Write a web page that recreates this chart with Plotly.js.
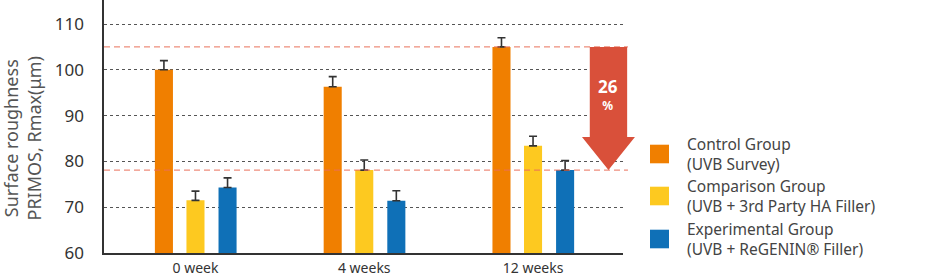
<!DOCTYPE html>
<html><head><meta charset="utf-8">
<script src="https://cdn.plot.ly/plotly-3.0.1.min.js"></script>
<style>html,body{margin:0;padding:0;background:#fff}#chart{width:932px;height:279px}</style>
</head><body><div id="chart"></div>
<script>
const categories = ['0 week', '4 weeks', '12 weeks'];
const seriesNames = ['Control Group', 'Comparison Group', 'Experimental Group'];
const seriesSub = ['(UVB Survey)', '(UVB + 3rd Party HA Filler)', '(UVB + ReGENIN® Filler)'];
const controlValues = [100.0, 96.3, 105.0];
const comparisonValues = [71.5, 78.1, 83.4];
const experimentalValues = [74.3, 71.4, 78.1];
const controlErr = [2.0, 2.2, 2.0];
const comparisonErr = [2.0, 2.2, 2.1];
const experimentalErr = [2.1, 2.2, 2.1];
const reductionPct = '26';
const yTicks = [60, 70, 80, 90, 100, 110];

const colors = ['#f07f00', '#fdc920', '#0f70b7'];
const values = [controlValues, comparisonValues, experimentalValues];
const errs = [controlErr, comparisonErr, experimentalErr];
const yMin = 60, yMax = 115.24;
const barW = 0.107;
const centers = [-0.187, 0, 0.19];
const FONT = 'Noto Sans, sans-serif';

const traces = values.map((v, i) => ({
  type: 'bar',
  x: categories,
  y: v,
  name: seriesNames[i],
  width: barW,
  offset: centers[i] - barW / 2,
  marker: {color: colors[i], line: {width: 0}},
  error_y: {type: 'data', array: errs[i], arrayminus: v.map(() => 0), symmetric: false,
            color: '#333', thickness: 1.6, width: 4},
  showlegend: false,
  hoverinfo: 'skip'
}));

const yp = v => (v - yMin) / (yMax - yMin);
const hi = controlValues[2], lo = experimentalValues[2];
const shapes = [];
[hi, lo].forEach(v => shapes.push({type: 'line', xref: 'paper', yref: 'paper', x0: 0, x1: 1.0096, y0: yp(v), y1: yp(v),
  line: {color: '#e9705a', width: 1, dash: '6px,4px'}}));
// arrow
const sx0 = 0.936, sx1 = 1.008, hx0 = 0.921, hx1 = 1.023, tx = 0.972;
const headBase = yp(lo) + 33 / 253;
shapes.push({type: 'path', xref: 'paper', yref: 'paper', line: {width: 0}, fillcolor: '#d9503a',
  path: `M ${sx0},${yp(hi)} L ${sx1},${yp(hi)} L ${sx1},${headBase} L ${hx1},${headBase} L ${tx},${yp(lo)} L ${hx0},${headBase} L ${sx0},${headBase} Z`});

const annotations = [
  {xref: 'paper', yref: 'paper', x: tx, y: (253 - 94.5) / 253,
   text: '<span style="font-size:17px"><b>' + reductionPct + '</b></span><br><span style="font-size:12px"><b>%</b></span>',
   showarrow: false, align: 'center', xanchor: 'center', yanchor: 'middle', font: {family: FONT, size: 13, color: '#fff'}},
  {xref: 'paper', yref: 'paper', x: (22 - 104) / 519, y: 0.4526, text: 'Surface roughness<br>PRIMOS, Rmax(μm)',
   textangle: -90, showarrow: false, xanchor: 'center', yanchor: 'middle',
   font: {family: FONT, size: 18, color: '#555'}}
];
// legend
const legCy = [154, 196, 239];
seriesNames.forEach((n, i) => {
  const cy = legCy[i];
  shapes.push({type: 'rect', xref: 'paper', yref: 'paper',
    x0: (650 - 104) / 519, x1: (669 - 104) / 519, y0: (253 - cy - 9.3) / 253, y1: (253 - cy + 9.3) / 253,
    fillcolor: colors[i], line: {width: 0}});
  annotations.push({xref: 'paper', yref: 'paper', x: (685 - 104) / 519, y: (253 - cy) / 253,
    text: n + '<br>' + seriesSub[i], align: 'left',
    xanchor: 'left', yanchor: 'middle', showarrow: false, font: {family: FONT, size: 15.5, color: '#444'}});
});

const layout = {
  width: 932, height: 279,
  margin: {l: 104, r: 309, t: 0, b: 26, pad: 0},
  paper_bgcolor: '#fff', plot_bgcolor: '#fff',
  barmode: 'overlay',
  xaxis: {type: 'category', range: [-0.542, 2.533], showline: true, linecolor: '#333', linewidth: 1.6,
          showgrid: false, ticks: '', ticklabelstandoff: 2, tickfont: {family: FONT, size: 14, color: '#333'}, fixedrange: true},
  yaxis: {range: [yMin, yMax], tickvals: yTicks, showline: true, linecolor: '#333', linewidth: 1.6,
          showgrid: true, gridcolor: '#555', griddash: '3px,3px', gridwidth: 1, zeroline: false, ticks: '',
          ticklabelstandoff: 15, tickfont: {family: FONT, size: 17, color: '#333'}, fixedrange: true},
  shapes: shapes,
  annotations: annotations,
  showlegend: false
};
Plotly.newPlot('chart', traces, layout, {displayModeBar: false, staticPlot: true});
</script></body></html>
